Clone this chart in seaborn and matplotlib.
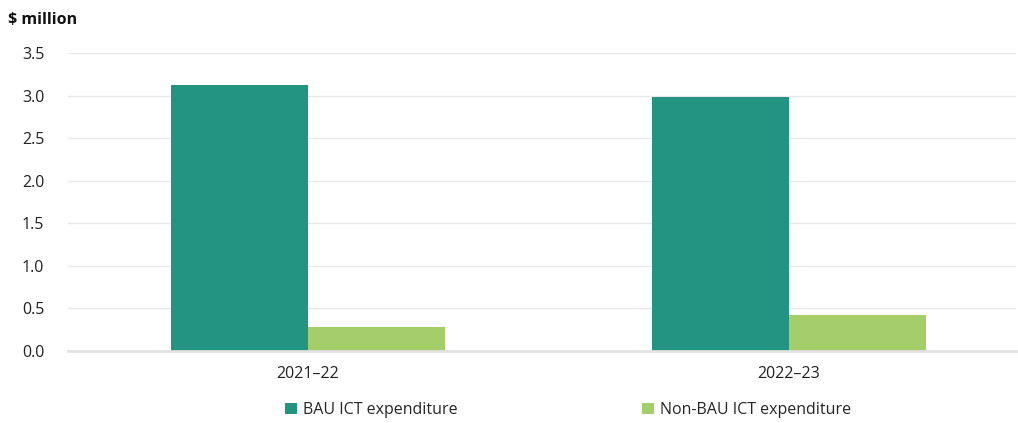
import matplotlib
matplotlib.use("Agg")
import matplotlib.pyplot as plt
import seaborn as sns
import pandas as pd

years = ["2021\u201322", "2022\u201323"]
series = ["BAU ICT expenditure", "Non-BAU ICT expenditure"]
bau = [3.13, 2.99]
non_bau = [0.28, 0.42]
colors = ["#239482", "#A3CE6A"]
yticks = [0.0, 0.5, 1.0, 1.5, 2.0, 2.5, 3.0, 3.5]

df = pd.DataFrame({
    "year": years * 2,
    "series": [series[0]] * 2 + [series[1]] * 2,
    "value": bau + non_bau,
})

sns.set_theme(style="white")
plt.rcParams["font.family"] = ["Open Sans", "DejaVu Sans"]

fig = plt.figure(figsize=(10.18, 4.23), dpi=100)
ax = fig.add_axes([68 / 1018, 1 - 351 / 423, (1016 - 68) / 1018, (351 - 54) / 423 + 0.002])

sns.barplot(data=df, x="year", y="value", hue="series", palette=colors,
            width=0.57, saturation=1, ax=ax, legend=True)

ax.set_ylim(0, 3.5)
ax.set_xlim(-0.499, 1.472)
ax.set_yticks(yticks)
ax.set_yticklabels([f"{v:.1f}" for v in yticks], fontsize=11.5, color="#222222")
ax.tick_params(axis="x", labelsize=11.5, colors="#222222", length=0, pad=11)
ax.tick_params(axis="y", length=0, pad=17)
ax.set_xlabel("")
ax.set_ylabel("")
ax.yaxis.grid(True, color="#E8E8E8", linewidth=1)
ax.set_axisbelow(True)
for s in ["top", "right", "left"]:
    ax.spines[s].set_visible(False)
ax.spines["bottom"].set_color("#E2E2E2")
ax.spines["bottom"].set_linewidth(2)
for p in ax.patches:
    p.set_edgecolor("none")

handles, labels = ax.get_legend_handles_labels()
ax.get_legend().remove()
fig.legend(handles, labels, loc="center", bbox_to_anchor=(0.558, 1 - 410 / 423),
           ncol=2, frameon=False, fontsize=11.5, handlelength=0.75, handleheight=0.75,
           handletextpad=0.35, columnspacing=11.6)

fig.text(8 / 1018, 1 - 20 / 423, "\\$ million", fontsize=11.5, fontweight="bold",
         va="center", ha="left", color="#111111")

fig.savefig("out.png", dpi=100)
